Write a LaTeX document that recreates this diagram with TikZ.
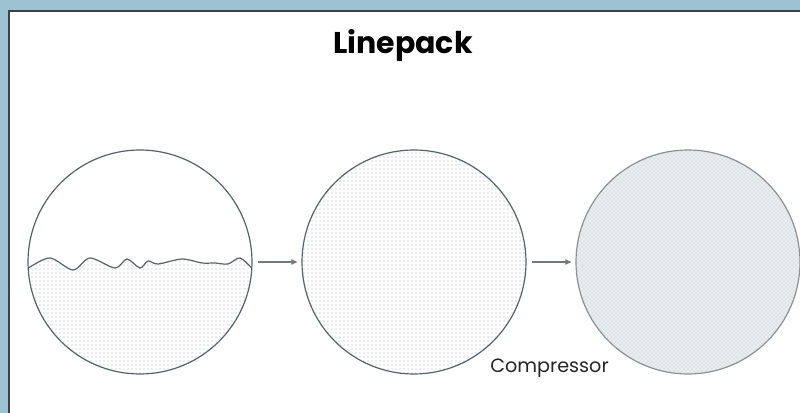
\documentclass[tikz,border=0pt]{standalone}
\usepackage{fontspec}
\setmainfont{Poppins}
\usetikzlibrary{patterns,arrows.meta}
\definecolor{framebl}{HTML}{9DC3D3}
\definecolor{rim}{HTML}{56636A}
\definecolor{dotgray}{HTML}{A9B1B5}
\definecolor{packfill}{HTML}{E9EEF1}
\definecolor{flowgray}{HTML}{6F7B81}
\tikzset{%
    tank/.style={circle,draw=rim,line width=0.9pt,minimum size=168pt,inner sep=0pt}
}

\begin{document}
\begin{tikzpicture}[x=0.75pt,y=-0.75pt,
        flow/.style={draw=flowgray,line width=0.8pt,-{Triangle[length=4.5pt,width=4pt]},shorten <=4pt,shorten >=3pt},
        label/.style={inner sep=0pt,text=black!85}
        ]
        \useasboundingbox (0,0) rectangle (800,413);
        % frame around the panel
        \fill[framebl] (0,0) rectangle (800,413);
        \fill[white] (9,11) rectangle (800,413);
        \draw[black!75,line width=1pt] (9,413) -- (9,11) -- (800,11);

        \node[label,text=black,font=\fontsize{22.5}{26}\selectfont\bfseries] (title) at (403,45) {Linepack};

        % pipe with low pressure, gas level shown as a wave
        \def\gaslevel{(24,270) (28,268) (50,258) (73,270) (90,258) (115,268) (127,259) (140,268) (148,261) (158,264) (182,259) (202,263) (215,263) (228,264) (240,258) (252,268) (256,270)}
        \begin{scope}
            \clip (140,262) circle[radius=112];
            \fill[pattern=dots,pattern color=dotgray]
                plot[smooth] coordinates \gaslevel
                -- (260,390) -- (20,390) -- cycle;
            \draw[rim,line width=0.9pt]
                plot[smooth] coordinates \gaslevel;
        \end{scope}
        \node[tank] (low) at (140,262) {};

        % pipe filled after compression
        \node[tank,pattern=dots,pattern color=dotgray] (mid) at (414,262) {};

        % packed pipe
        \fill[packfill] (688,262) circle[radius=112];
        \node[tank,draw=rim!70,pattern=crosshatch dots,pattern color=dotgray!80] (full) at (688,262) {};

        \draw[flow] (low.east) -- (mid.west);
        \draw[flow] (mid.east) -- (full.west);

        \node[label,font=\fontsize{14.4}{17}\selectfont,anchor=base west] (comp) at (490,373) {Compressor};
\end{tikzpicture}
\end{document}
